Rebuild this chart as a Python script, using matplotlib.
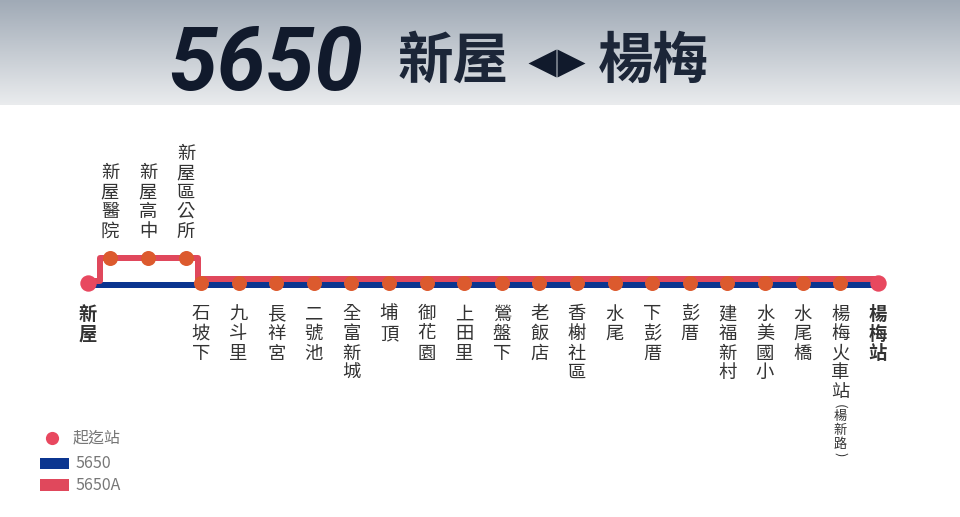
import matplotlib
matplotlib.use("Agg")
import matplotlib.pyplot as plt
import numpy as np
from matplotlib.patches import Rectangle

# ---------------- data ----------------
route_no = "5650"
origin = "新屋"
destination = "楊梅"
start_terminal = "新屋"
end_terminal = "楊梅站"
branch_stops = ["新屋醫院", "新屋高中", "新屋區公所"]          # 5650A only
main_stops = ["石坡下", "九斗里", "長祥宮", "二號池", "全富新城", "埔頂",
              "御花園", "上田里", "鶯盤下", "老飯店", "香榭社區", "水尾",
              "下彭厝", "彭厝", "建福新村", "水美國小", "水尾橋", "楊梅火車站"]
main_notes = {"楊梅火車站": "楊新路"}
legend_labels = ["起迄站", "5650", "5650A"]

# ---------------- style ----------------
BLUE = "#0b3590"
RED = "#e0485c"
STOP = "#dc5a2e"
TERM = "#e8485f"
TXT = "#333333"
CJK = ["Noto Sans CJK TC", "DejaVu Sans"]

W, H = 960, 517
fig = plt.figure(figsize=(W / 100, H / 100), dpi=100)

# overlay in pixel coordinates (header & legend)
pax = fig.add_axes([0, 0, 1, 1])
pax.axis("off")

# header gradient
grad = np.linspace(0, 1, 256).reshape(-1, 1)
c_top = np.array([160, 170, 182]) / 255
c_bot = np.array([234, 236, 238]) / 255
img = (c_top + (c_bot - c_top) * grad[..., None]).reshape(256, 1, 3)
pax.imshow(img, extent=(0, W, 105, 0), aspect="auto", zorder=0)
pax.set_xlim(0, W)
pax.set_ylim(H, 0)

pax.text(168, 90, route_no, fontsize=63, family=["Roboto", "DejaVu Sans"],
         fontweight="bold", fontstyle="italic", color="#111a2c",
         ha="left", va="baseline", zorder=3)
pax.text(398, 62, origin, fontsize=40, family=CJK, fontweight="bold",
         color="#1c2638", ha="left", va="center", zorder=3)
pax.plot([542], [63], marker="<", ms=20, color="#111a2c", mec="none", zorder=3)
pax.plot([571], [63], marker=">", ms=20, color="#111a2c", mec="none", zorder=3)
pax.text(598, 62, destination, fontsize=40, family=CJK, fontweight="bold",
         color="#1c2638", ha="left", va="center", zorder=3)

# legend
pax.plot([52], [438], "o", ms=9.5, color=TERM, mec="none")
pax.text(73, 438, legend_labels[0], fontsize=11.5, family=CJK, color="#777777",
         ha="left", va="center")
pax.add_patch(Rectangle((40, 458), 29, 11, color=BLUE, lw=0))
pax.text(75, 463.5, legend_labels[1], fontsize=11.5, family=CJK, color="#777777",
         ha="left", va="center")
pax.add_patch(Rectangle((40, 479), 29, 12, color=RED, lw=0))
pax.text(75, 485, legend_labels[2], fontsize=11.5, family=CJK, color="#777777",
         ha="left", va="center")

# route axes: x = stop index (石坡下 = 0), y = pixels
ax = fig.add_axes([0, 0, 1, 1])
ax.patch.set_alpha(0)
step = 37.6
x0px = 201
ax.set_xlim(-x0px / step, (W - x0px) / step)
ax.set_ylim(H, 0)
ax.axis("off")

n = len(main_stops)
xs = np.arange(n)
x_start = -3.0
x_end = float(n)
x_branch = np.arange(len(branch_stops)) * 1.01 - 2.42

Y_MAIN = 283
Y_BLUE = 285
Y_RED = 279
Y_BR = 258
LW = 6 * 0.72

ax.plot([x_start, x_end], [Y_BLUE, Y_BLUE], color=BLUE, lw=LW,
        solid_capstyle="butt", zorder=2)
ax.plot([x_start, x_branch[0] - 0.27, x_branch[0] - 0.27,
         x_branch[-1] + 0.32, x_branch[-1] + 0.32, x_end],
        [Y_RED + 2, Y_RED + 2, Y_BR, Y_BR, Y_RED, Y_RED],
        color=RED, lw=LW, solid_joinstyle="round", solid_capstyle="butt", zorder=3)

ax.plot(xs, [Y_MAIN] * n, "o", ms=10.8, color=STOP, mec="none", zorder=5)
ax.plot(x_branch, [Y_BR] * len(x_branch), "o", ms=10.8, color=STOP, mec="none", zorder=5)
ax.plot([x_start, x_end], [Y_MAIN, Y_MAIN], "o", ms=11.8, color=TERM, mec="none", zorder=6)

PITCH = 19.5
FS = 13.2
TOP = 306 + 8.5


def vtext(x, name, top_c, bold=False):
    for k, ch in enumerate(name):
        ax.text(x, top_c + k * PITCH, ch, fontsize=FS, family=CJK,
                fontweight="bold" if bold else "normal",
                color=TXT, ha="center", va="center", zorder=7)


vtext(x_start, start_terminal, TOP, bold=True)
vtext(x_end, end_terminal, TOP, bold=True)
for x, name in zip(xs, main_stops):
    vtext(x, name, TOP)
    if name in main_notes:
        note = main_notes[name]
        last = TOP + (len(name) - 1) * PITCH
        ax.text(x, last + 14, "(", fontsize=9.5, family=CJK, color=TXT,
                rotation=-90, ha="center", va="center", zorder=7)
        for k, ch in enumerate(note):
            ax.text(x, last + 24 + k * 13.8, ch, fontsize=9.5,
                    family=CJK, color=TXT, ha="center", va="center", zorder=7)
        ax.text(x, last + 24 + len(note) * 13.8 - 4, ")", fontsize=9.5, family=CJK,
                color=TXT, rotation=-90, ha="center", va="center", zorder=7)

BOTTOM = 240 - 8.5
for x, name in zip(x_branch, branch_stops):
    m = len(name)
    vtext(x, name, BOTTOM - (m - 1) * PITCH)

fig.savefig("out.png", dpi=100)
